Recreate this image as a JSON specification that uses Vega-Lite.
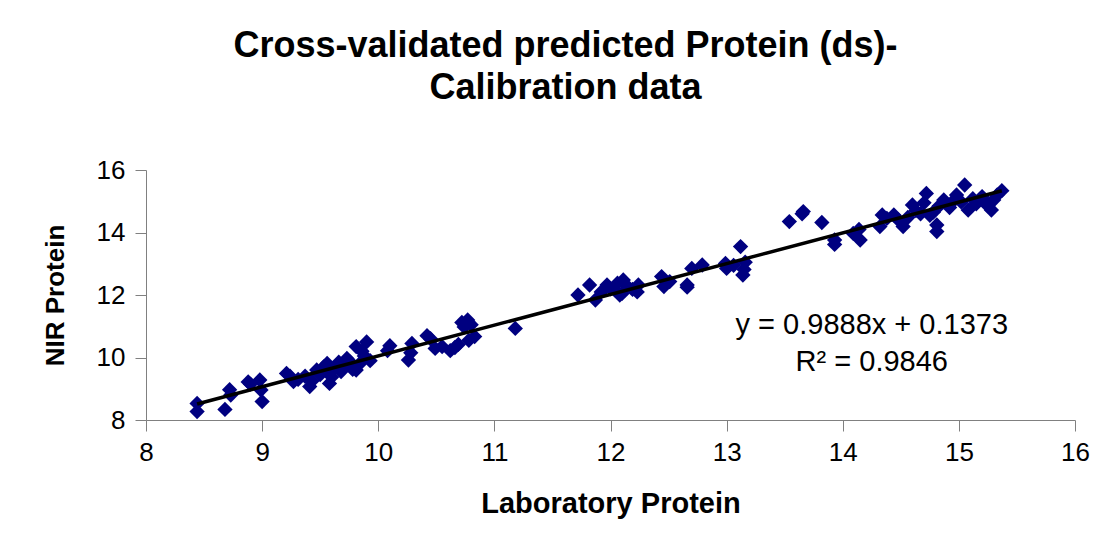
{
  "$schema": "https://vega.github.io/schema/vega-lite/v6.json",
  "width": 929,
  "height": 250,
  "autosize": "none",
  "padding": {"left": 146, "top": 170, "right": 34, "bottom": 126},
  "background": "white",
  "config": {"view": {"stroke": null}, "font": "Liberation Sans"},
  "title": {
    "text": ["Cross-validated predicted Protein (ds)-", "Calibration data"],
    "font": "Liberation Sans",
    "fontSize": 36,
    "fontWeight": "bold",
    "color": "black",
    "anchor": "middle",
    "frame": "group",
    "dx": -45,
    "offset": 50,
    "lineHeight": 42
  },
  "datasets": {
    "pts": [
      {"lab": 8.44, "nir": 8.53}, {"lab": 8.44, "nir": 8.27}, {"lab": 8.68, "nir": 8.34}, {"lab": 8.72, "nir": 8.97},
      {"lab": 8.73, "nir": 8.80}, {"lab": 8.88, "nir": 9.22}, {"lab": 8.90, "nir": 9.15}, {"lab": 8.98, "nir": 9.28},
      {"lab": 8.99, "nir": 8.96}, {"lab": 9.00, "nir": 8.59},
      {"lab": 9.21, "nir": 9.49}, {"lab": 9.24, "nir": 9.40}, {"lab": 9.27, "nir": 9.23}, {"lab": 9.31, "nir": 9.30},
      {"lab": 9.37, "nir": 9.40}, {"lab": 9.41, "nir": 9.07}, {"lab": 9.43, "nir": 9.25}, {"lab": 9.47, "nir": 9.60},
      {"lab": 9.50, "nir": 9.45}, {"lab": 9.53, "nir": 9.70}, {"lab": 9.56, "nir": 9.81}, {"lab": 9.57, "nir": 9.55},
      {"lab": 9.58, "nir": 9.17}, {"lab": 9.60, "nir": 9.38}, {"lab": 9.62, "nir": 9.65}, {"lab": 9.66, "nir": 9.85},
      {"lab": 9.68, "nir": 9.55}, {"lab": 9.70, "nir": 9.75}, {"lab": 9.73, "nir": 9.97}, {"lab": 9.76, "nir": 9.85},
      {"lab": 9.78, "nir": 9.62}, {"lab": 9.81, "nir": 10.35}, {"lab": 9.81, "nir": 9.60}, {"lab": 9.84, "nir": 9.80},
      {"lab": 9.86, "nir": 10.20}, {"lab": 9.90, "nir": 10.50}, {"lab": 9.93, "nir": 9.90}, {"lab": 9.88, "nir": 10.05},
      {"lab": 10.10, "nir": 10.38}, {"lab": 10.08, "nir": 10.22}, {"lab": 10.26, "nir": 9.92}, {"lab": 10.28, "nir": 10.15},
      {"lab": 10.29, "nir": 10.45}, {"lab": 10.42, "nir": 10.70}, {"lab": 10.45, "nir": 10.60}, {"lab": 10.49, "nir": 10.29},
      {"lab": 10.55, "nir": 10.35}, {"lab": 10.62, "nir": 10.22}, {"lab": 10.66, "nir": 10.32}, {"lab": 10.69, "nir": 10.42},
      {"lab": 10.72, "nir": 11.12}, {"lab": 10.74, "nir": 10.98}, {"lab": 10.77, "nir": 11.20}, {"lab": 10.80, "nir": 11.05},
      {"lab": 10.83, "nir": 10.67}, {"lab": 10.78, "nir": 10.55},
      {"lab": 11.18, "nir": 10.93},
      {"lab": 11.72, "nir": 12.00}, {"lab": 11.82, "nir": 12.32}, {"lab": 11.87, "nir": 11.84}, {"lab": 11.92, "nir": 12.10},
      {"lab": 11.97, "nir": 12.32}, {"lab": 12.00, "nir": 12.20}, {"lab": 12.04, "nir": 12.16}, {"lab": 12.06, "nir": 12.38},
      {"lab": 12.08, "nir": 12.00}, {"lab": 12.11, "nir": 12.48}, {"lab": 12.10, "nir": 12.05}, {"lab": 12.14, "nir": 12.30},
      {"lab": 12.19, "nir": 12.18}, {"lab": 12.23, "nir": 12.10}, {"lab": 12.24, "nir": 12.32},
      {"lab": 12.44, "nir": 12.59}, {"lab": 12.46, "nir": 12.27}, {"lab": 12.48, "nir": 12.40}, {"lab": 12.51, "nir": 12.43},
      {"lab": 12.66, "nir": 12.32}, {"lab": 12.66, "nir": 12.25}, {"lab": 12.70, "nir": 12.85}, {"lab": 12.79, "nir": 12.96},
      {"lab": 12.99, "nir": 13.01}, {"lab": 13.00, "nir": 12.85}, {"lab": 13.06, "nir": 12.95}, {"lab": 13.12, "nir": 13.55},
      {"lab": 13.14, "nir": 12.64}, {"lab": 13.15, "nir": 12.82}, {"lab": 13.16, "nir": 13.05},
      {"lab": 13.54, "nir": 14.35}, {"lab": 13.66, "nir": 14.67}, {"lab": 13.65, "nir": 14.60}, {"lab": 13.82, "nir": 14.32},
      {"lab": 13.93, "nir": 13.76}, {"lab": 13.93, "nir": 13.62}, {"lab": 14.09, "nir": 13.97}, {"lab": 14.14, "nir": 14.10},
      {"lab": 14.15, "nir": 13.76},
      {"lab": 14.32, "nir": 14.19}, {"lab": 14.34, "nir": 14.56}, {"lab": 14.38, "nir": 14.45}, {"lab": 14.44, "nir": 14.56},
      {"lab": 14.48, "nir": 14.40}, {"lab": 14.52, "nir": 14.19}, {"lab": 14.56, "nir": 14.48}, {"lab": 14.60, "nir": 14.88},
      {"lab": 14.63, "nir": 14.70}, {"lab": 14.67, "nir": 14.60}, {"lab": 14.70, "nir": 14.95}, {"lab": 14.72, "nir": 15.25},
      {"lab": 14.75, "nir": 14.55}, {"lab": 14.78, "nir": 14.65}, {"lab": 14.81, "nir": 14.03}, {"lab": 14.81, "nir": 14.24},
      {"lab": 14.83, "nir": 14.85}, {"lab": 14.87, "nir": 15.04}, {"lab": 14.92, "nir": 14.80}, {"lab": 14.95, "nir": 15.00},
      {"lab": 14.98, "nir": 15.20}, {"lab": 15.02, "nir": 14.98}, {"lab": 15.05, "nir": 15.52}, {"lab": 15.08, "nir": 14.72},
      {"lab": 15.12, "nir": 15.08}, {"lab": 15.15, "nir": 14.92}, {"lab": 15.20, "nir": 15.15}, {"lab": 15.22, "nir": 15.02},
      {"lab": 15.25, "nir": 14.85}, {"lab": 15.28, "nir": 14.72}, {"lab": 15.30, "nir": 15.04}, {"lab": 15.33, "nir": 15.20},
      {"lab": 15.37, "nir": 15.34}
    ],
    "notes": [
      {"label": "y = 0.9888x + 0.1373", "lx": 14.25, "ly": 11.04},
      {"label": "R² = 0.9846", "lx": 14.25, "ly": 9.86}
    ]
  },
  "layer": [
    {
      "data": {"name": "pts"},
      "mark": {"type": "point", "shape": "diamond", "filled": true, "size": 235, "color": "#000080", "opacity": 1, "strokeWidth": 0},
      "encoding": {
        "x": {
          "field": "lab", "type": "quantitative",
          "scale": {"domain": [8, 16], "nice": false, "zero": false},
          "axis": {
            "title": "Laboratory Protein", "titleFont": "Liberation Sans", "titleFontSize": 29, "titleFontWeight": "bold",
            "titleColor": "black", "titlePadding": 24,
            "values": [8, 9, 10, 11, 12, 13, 14, 15, 16], "format": "d",
            "labelFont": "Liberation Sans", "labelFontSize": 26, "labelColor": "black", "labelPadding": 8,
            "labelFlush": false, "labelOverlap": false,
            "tickSize": 11, "tickColor": "#808080", "domainColor": "#808080", "grid": false
          }
        },
        "y": {
          "field": "nir", "type": "quantitative",
          "scale": {"domain": [8, 16], "nice": false, "zero": false},
          "axis": {
            "title": "NIR Protein", "titleFont": "Liberation Sans", "titleFontSize": 26, "titleFontWeight": "bold",
            "titleColor": "black", "titlePadding": 28,
            "values": [8, 10, 12, 14, 16], "format": "d",
            "labelFont": "Liberation Sans", "labelFontSize": 26, "labelColor": "black", "labelPadding": 10,
            "labelFlush": false, "labelOverlap": false,
            "tickSize": 11, "tickColor": "#808080", "domainColor": "#808080", "grid": false
          }
        }
      }
    },
    {
      "data": {"name": "pts"},
      "transform": [{"regression": "nir", "on": "lab"}],
      "mark": {"type": "line", "color": "black", "strokeWidth": 3.5},
      "encoding": {
        "x": {"field": "lab", "type": "quantitative"},
        "y": {"field": "nir", "type": "quantitative"}
      }
    },
    {
      "data": {"name": "notes"},
      "mark": {"type": "text", "font": "Liberation Sans", "fontSize": 29, "color": "black", "align": "center", "baseline": "middle"},
      "encoding": {
        "x": {"field": "lx", "type": "quantitative"},
        "y": {"field": "ly", "type": "quantitative"},
        "text": {"field": "label"}
      }
    }
  ]
}
